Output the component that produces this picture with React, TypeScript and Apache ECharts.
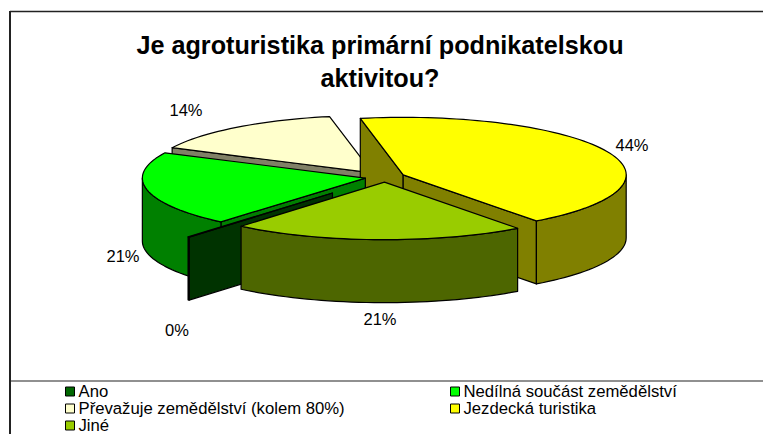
import React, { useEffect, useRef } from "react";
import * as echarts from "echarts";

const TITLE = "Je agroturistika primární podnikatelskou\naktivitou?";
const categories = ["Ano", "Nedílná součást zemědělství", "Převažuje zemědělství (kolem 80%)", "Jezdecká turistika", "Jiné"];
const values = [0.1, 21.0, 14.1, 43.5, 21.3];

const topColors = ["#006600", "#00FF00", "#FFFFCC", "#FFFF00", "#99CC00"];
const wallColors = ["#003300", "#008000", "#808066", "#808000", "#4D6600"];
const explosions = [0.365, 0.09, 0.09, 0.09, 0.09];
const labelCenters = [[177, 330], [123, 256], [186, 110], [632, 145], [380, 319]];
const paintOrder = [2, 3, 1, 0, 4];
const legendLeft = [0, 2, 4];
const legendRight = [1, 3];

const FONT = "'Liberation Sans', Arial, sans-serif";
const START_ANGLE = 220;
const CX = 385, CY = 177, RX = 223, RY = 57.5, DEPTH = 63;

const total = values.reduce((a, b) => a + b, 0);
const angleOf = (i: number) => {
  let acc = START_ANGLE;
  for (let k = 0; k < i; k++) acc += (values[k] / total) * 360;
  return acc;
};
// the reference's slight perspective pulls the far rim of the pie towards the centre
const view = (deg: number) => deg + 2.2 * Math.pow(Math.max(0, Math.cos(((deg - 349) * Math.PI) / 180)), 6);

function sliceChildren(i: number) {
  const a0 = angleOf(i);
  const a1 = a0 + (values[i] / total) * 360;
  const mid = ((a0 + a1) / 2) * Math.PI / 180;
  const e = explosions[i];
  const ax = CX + e * RX * Math.sin(mid);
  const ay = CY - e * RY * Math.cos(mid);
  const pt = (deg: number) => {
    const r = (view(deg) * Math.PI) / 180;
    return [ax + RX * Math.sin(r), ay - RY * Math.cos(r)];
  };
  const down = (p: number[]) => [p[0], p[1] + DEPTH];
  const arc = (s: number, t: number) => {
    const n = Math.max(1, Math.ceil(Math.abs(t - s) / 2));
    const out: number[][] = [];
    for (let k = 0; k <= n; k++) out.push(pt(s + ((t - s) * k) / n));
    return out;
  };
  const line = { stroke: "#000", lineWidth: 1.2, lineJoin: "round" };
  const poly = (points: number[][], fill: string) => ({ type: "polygon", shape: { points }, style: { fill, ...line } });
  const children: any[] = [];
  const apex = [ax, ay];
  if (Math.sin((a0 * Math.PI) / 180) < 0) {
    const p = pt(a0);
    children.push(poly([apex, p, down(p), down(apex)], wallColors[i]));
  }
  if (Math.sin((a1 * Math.PI) / 180) > 0) {
    const p = pt(a1);
    children.push(poly([apex, p, down(p), down(apex)], wallColors[i]));
  }
  // outer wall: the part of the rim on the front half of the ellipse
  for (const base of [-360, 0, 360]) {
    const s = Math.max(a0, 90 + base);
    const t = Math.min(a1, 270 + base);
    if (t > s) {
      const rim = arc(s, t);
      children.push(poly([...rim, ...rim.slice().reverse().map(down)], wallColors[i]));
    }
  }
  children.push(poly([apex, ...arc(a0, a1)], topColors[i]));
  const c = labelCenters[i];
  children.push({
    type: "text",
    z2: 100,
    style: { text: `${Math.round(values[i])}%`, x: c[0], y: c[1], fill: "#000", font: `16.5px ${FONT}`, align: "center", verticalAlign: "middle" },
  });
  return children;
}

const legendOf = (ids: number[], left: number) => ({
  orient: "vertical",
  left,
  top: 383,
  height: 70,
  padding: 0,
  itemWidth: 9,
  itemHeight: 9,
  itemGap: 0,
  selectedMode: false,
  icon: "rect",
  textStyle: { fontFamily: FONT, fontSize: 16.7, lineHeight: 16.7, color: "#000", padding: [0, 0, 0, -1] },
  data: ids.map((i) => ({
    name: categories[i],
    icon: "rect",
    itemStyle: { color: topColors[i], borderColor: "#000", borderWidth: 1 },
  })),
});

export default function App() {
  const ref = useRef<HTMLDivElement>(null);
  useEffect(() => {
    document.body.style.margin = "0";
    const chart = echarts.init(ref.current!, null, { renderer: "svg" });
    chart.setOption({
      animation: false,
      backgroundColor: "#fff",
      title: {
        text: TITLE,
        left: 380,
        top: 29,
        textAlign: "center",
        padding: 0,
        textStyle: { fontFamily: FONT, fontSize: 25.2, fontWeight: "bold", color: "#000", lineHeight: 32.5 },
      },
      legend: [legendOf(legendLeft, 65), legendOf(legendRight, 450)],
      series: paintOrder.map((i) => ({
        type: "custom",
        name: categories[i],
        coordinateSystem: "none",
        silent: true,
        itemStyle: { color: topColors[i] },
        data: [values[i]],
        renderItem: () => ({ type: "group", children: sliceChildren(i) }),
      })),
      graphic: [
        { type: "line", silent: true, shape: { x1: 10, y1: 11.5, x2: 763, y2: 11.5 }, style: { stroke: "#222", lineWidth: 1.5 } },
        { type: "line", silent: true, shape: { x1: 10, y1: 11, x2: 10, y2: 434 }, style: { stroke: "#222", lineWidth: 2 } },
        { type: "line", silent: true, shape: { x1: 10, y1: 381, x2: 763, y2: 381 }, style: { stroke: "#222", lineWidth: 1.2 } },
      ],
    });
    return () => chart.dispose();
  }, []);
  return <div ref={ref} style={{ width: 763, height: 434 }} />;
}
